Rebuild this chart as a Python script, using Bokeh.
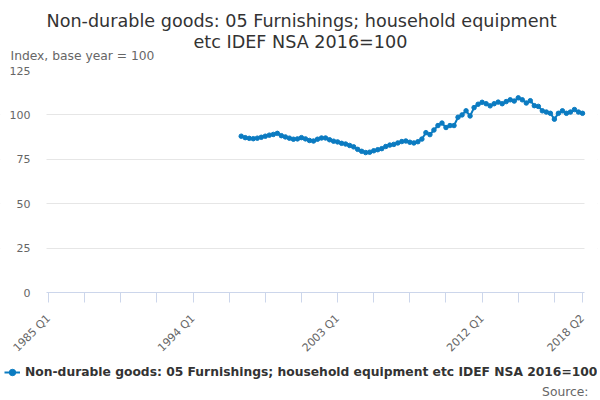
from bokeh.plotting import figure
from bokeh.models import (FixedTicker, Legend, LegendItem, Range1d, Title, Label,
                          ColumnDataSource, BoxAnnotation)
from bokeh.layouts import column
from bokeh.embed import file_html
from bokeh.resources import INLINE
import math

# ---- data -------------------------------------------------------------
series_start_index = 48    # 1997 Q1 (axis index 0 = 1985 Q1)
values = [
    88.0, 87.2, 86.8, 86.6, 86.9, 87.4, 88.0, 88.6, 89.0, 89.6,
    88.3, 87.6, 86.9, 86.3, 86.5, 87.2, 86.5, 85.6, 85.3, 86.3,
    87.0, 87.0, 86.0, 85.2, 84.8, 84.0, 83.6, 82.8, 82.0, 80.6,
    79.5, 78.8, 79.0, 79.8, 80.4, 81.0, 82.2, 83.0, 83.4, 84.2,
    85.0, 85.3, 84.6, 84.2, 84.9, 86.4, 90.0, 88.9, 91.5, 94.0,
    95.4, 92.9, 94.0, 94.0, 98.7, 100.0, 102.3, 99.4, 104.1, 106.0,
    107.1, 106.3, 105.1, 106.3, 107.2, 106.3, 107.5, 108.5, 107.8, 109.6,
    108.5, 106.7, 108.0, 105.2, 104.8, 102.3, 101.6, 100.9, 97.6, 100.9,
    102.3, 100.9, 101.6, 103.0, 101.6, 100.9,
]
n_quarters = 134           # 1985 Q1 .. 2018 Q2
tick_positions = [0, 9, 18, 27, 36, 45, 54, 63, 72, 81, 90, 99, 108, 117, 126, 133]
tick_labels = {0: "1985 Q1", 36: "1994 Q1", 72: "2003 Q1", 108: "2012 Q1", 133: "2018 Q2"}
y_ticks = [0, 25, 50, 75, 100, 125]

series_name = "Non-durable goods: 05 Furnishings; household equipment etc IDEF NSA 2016=100"
title_lines = ["Non-durable goods: 05 Furnishings; household equipment",
               "etc IDEF NSA 2016=100"]
y_title = "Index, base year = 100"
source_text = "Source:"

# ---- styling ----------------------------------------------------------
FONT = "DejaVu Sans"
BLUE = "#0b7bc1"
GREY = "#666666"
DARK = "#333333"

# The quarters occupy page x 46..584; the frame itself spans 0..597.
FRAME_L, AXIS_L, AXIS_R, FRAME_R = 0, 46, 584, 597
px_per_q = (AXIS_R - AXIS_L) / n_quarters
x_start = -0.5 - (AXIS_L - FRAME_L) / px_per_q
x_end = n_quarters - 0.5 + (FRAME_R - AXIS_R) / px_per_q
MAIN_H = 362               # chart + x axis; the strip below holds legend + source
STRIP_H = 400 - MAIN_H

xs = list(range(series_start_index, series_start_index + len(values)))
src = ColumnDataSource(dict(x=xs, y=values))

p = figure(width=600, height=MAIN_H, output_backend="svg", toolbar_location=None,
           x_range=Range1d(x_start, x_end), y_range=Range1d(0, 125),
           min_border_left=FRAME_L, min_border_right=600 - FRAME_R,
           min_border_top=67, min_border_bottom=MAIN_H - 297)
p.outline_line_color = None
p.background_fill_color = "white"
p.border_fill_color = "white"

p.ygrid.grid_line_color = "#e6e6e6"
p.ygrid.ticker = FixedTicker(ticks=y_ticks)
# keep the grid lines to the quarters' span
p.add_layout(BoxAnnotation(right=-0.5, fill_color="white", fill_alpha=1,
                           line_color=None, level="underlay"))
p.add_layout(BoxAnnotation(left=n_quarters - 0.5, fill_color="white", fill_alpha=1,
                           line_color=None, level="underlay"))

line_r = p.line("x", "y", source=src, line_color=BLUE, line_width=2)
dot_r = p.scatter("x", "y", source=src, size=4.5, marker="circle",
                  fill_color=BLUE, line_color=BLUE)

p.xaxis.ticker = FixedTicker(ticks=tick_positions)
p.xaxis.bounds = (-0.5, n_quarters - 0.5)
p.xaxis.major_label_overrides = {t: tick_labels.get(t, "") for t in tick_positions}
p.xaxis.major_label_orientation = math.pi / 4
p.xaxis.axis_line_color = "#ccd6eb"
p.xaxis.major_tick_line_color = "#ccd6eb"
p.xaxis.major_tick_out = 10
p.xaxis.major_tick_in = 0
p.xaxis.minor_tick_line_color = None
p.xaxis.major_label_text_font = FONT
p.xaxis.major_label_text_font_size = "11px"
p.xaxis.major_label_text_color = GREY
p.xaxis.major_label_standoff = 14
p.xgrid.grid_line_color = None

p.yaxis.ticker = FixedTicker(ticks=y_ticks)
p.yaxis.axis_line_color = None
p.yaxis.major_tick_line_color = None
p.yaxis.minor_tick_line_color = None
p.yaxis.major_tick_out = 0
p.yaxis.major_label_standoff = -30      # labels end at page x 30
p.yaxis.major_label_text_font = FONT
p.yaxis.major_label_text_font_size = "11px"
p.yaxis.major_label_text_color = GREY

# ---- texts above the frame (stacked outward from the frame top) --------
p.add_layout(Title(text=y_title, align="left", offset=10 - FRAME_L, vertical_align="middle",
                   standoff=13, text_font=FONT, text_font_size="12.3px",
                   text_font_style="normal", text_color=GREY), "above")
p.add_layout(Title(text=title_lines[1], align="left", offset=193 - FRAME_L,
                   vertical_align="middle", standoff=-26, text_font=FONT,
                   text_font_size="17.6px", text_font_style="normal",
                   text_color=DARK), "above")
p.add_layout(Title(text=title_lines[0], align="left", offset=46 - FRAME_L,
                   vertical_align="middle", standoff=19, text_font=FONT,
                   text_font_size="17.6px", text_font_style="normal",
                   text_color=DARK), "above")

# ---- strip below: legend and source ------------------------------------
strip = figure(width=600, height=STRIP_H, output_backend="svg", toolbar_location=None,
               x_range=Range1d(FRAME_L, FRAME_R), y_range=Range1d(400, MAIN_H),
               x_axis_type=None, y_axis_type=None,
               min_border_left=FRAME_L, min_border_right=600 - FRAME_R,
               min_border_top=0, min_border_bottom=0)
strip.outline_line_color = None
strip.background_fill_color = "white"
strip.border_fill_color = "white"
strip.xgrid.visible = False
strip.ygrid.visible = False

# same series, styled as in the chart; lies outside this strip's view, so only
# its legend key is seen
key_line = strip.line("x", "y", source=src, line_color=BLUE, line_width=2)
key_dot = strip.scatter("x", "y", source=src, size=4.5, marker="circle",
                        fill_color=BLUE, line_color=BLUE)

legend = Legend(items=[LegendItem(label=series_name, renderers=[key_line, key_dot])],
                location=(4, 400 - 380), orientation="horizontal",
                padding=0, margin=0, border_line_color=None,
                background_fill_alpha=0, glyph_width=16, glyph_height=16,
                label_height=16, label_standoff=5, label_text_font=FONT,
                label_text_font_size="12.3px", label_text_font_style="bold",
                label_text_color=DARK)
strip.add_layout(legend)

strip.add_layout(Label(x=588, y=391, text=source_text, text_font=FONT,
                       text_font_size="12.3px", text_color=GREY,
                       text_align="right", text_baseline="middle"))

layout = column(p, strip, spacing=0)
open("out.html", "w").write(file_html(layout, INLINE))
